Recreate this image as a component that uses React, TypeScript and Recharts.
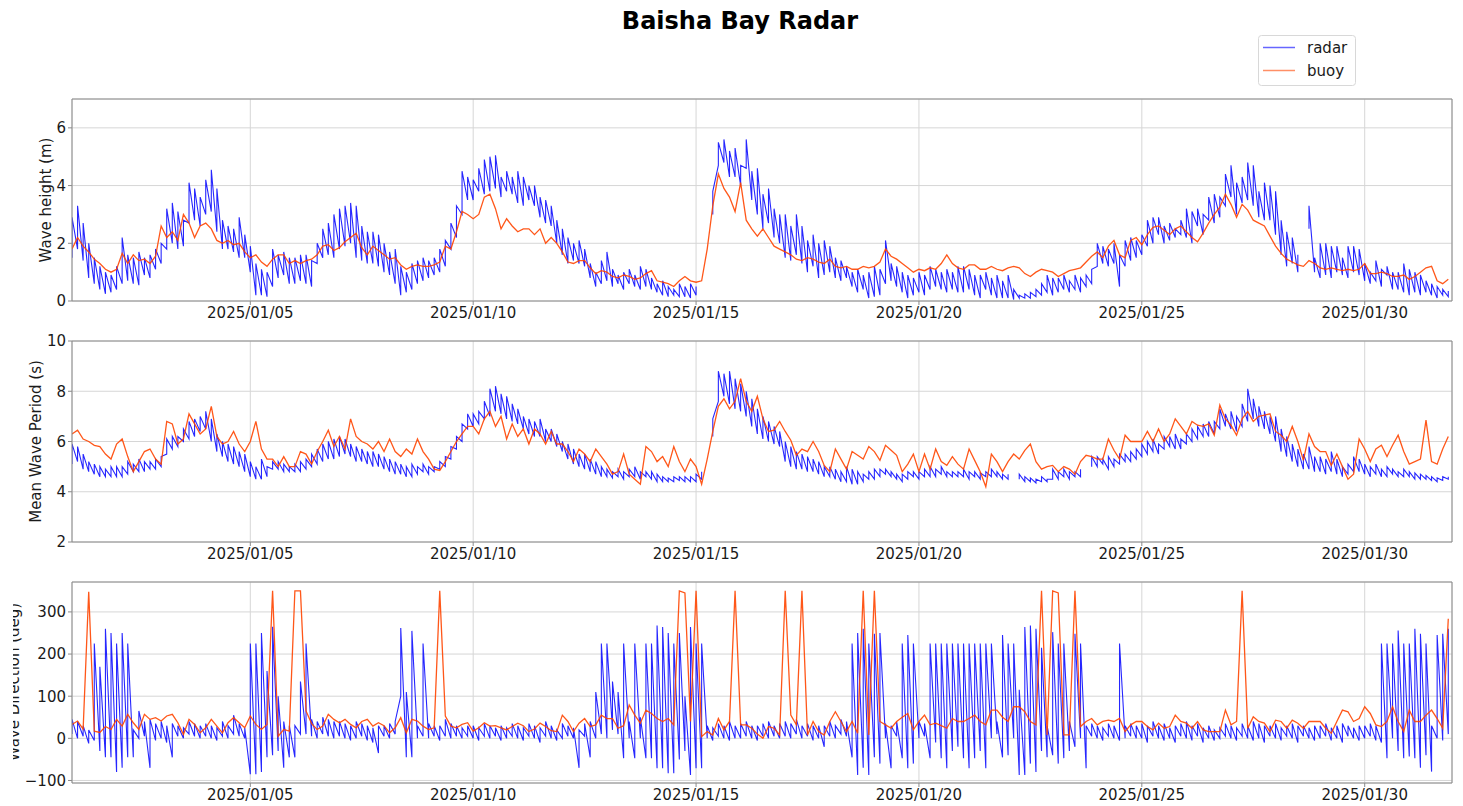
import React from "react";
import { LineChart, Line, XAxis, YAxis, CartesianGrid, ReferenceLine } from "recharts";

const FONT = "DejaVu Sans, Verdana, sans-serif";
const STEP = 3; // hours between samples, counted from 2025/01/01 00:00
const X_END = 743;
const tickHours = [96, 216, 336, 456, 576, 696];
const tickLabels = ["2025/01/05", "2025/01/10", "2025/01/15", "2025/01/20", "2025/01/25", "2025/01/30"];

type Pair = [number, number] | null;

// ---------- Wave height (m) ----------
const buoyHs: number[] = [
  1.8, 2.2, 1.9, 1.7, 1.45, 1.3, 1.1, 1.0,
  1.1, 1.65, 1.3, 1.6, 1.4, 1.45, 1.3, 1.55,
  2.6, 2.2, 2.4, 2.1, 3.0, 2.7, 2.2, 2.6,
  2.7, 2.5, 2.1, 2.0, 2.1, 1.95, 2.0, 1.7,
  1.5, 1.6, 1.35, 1.2, 1.45, 1.6, 1.6, 1.3,
  1.4, 1.3, 1.4, 1.45, 1.6, 1.9, 1.95, 1.75,
  1.85, 2.05, 2.2, 2.35, 1.85, 1.6, 1.9, 1.75,
  1.6, 1.45, 1.5, 1.25, 1.1, 1.2, 1.25, 1.2,
  1.2, 1.25, 1.35, 1.9, 1.8, 2.4, 3.1, 3.0,
  2.85, 3.0, 3.6, 3.7, 3.2, 2.5, 2.85, 2.6,
  2.4, 2.5, 2.5, 2.3, 2.5, 2.0, 2.2, 2.0,
  1.7, 1.35, 1.3, 1.4, 1.4, 1.15, 0.95, 1.05,
  1.0, 0.85, 0.8, 0.9, 0.85, 0.75, 0.8, 0.95,
  1.05, 0.7, 0.65, 0.6, 0.5, 0.7, 0.85, 0.7,
  0.65, 0.7, 1.8, 3.3, 4.4, 3.9, 3.6, 3.1,
  4.1, 2.8, 2.5, 2.25, 2.5, 2.2, 1.9, 1.8,
  1.7, 1.6, 1.45, 1.4, 1.5, 1.45, 1.35, 1.3,
  1.45, 1.2, 1.15, 1.2, 1.1, 1.1, 1.2, 1.15,
  1.2, 1.35, 1.8, 1.55, 1.45, 1.3, 1.15, 1.0,
  1.1, 1.05, 1.15, 1.1, 1.3, 1.6, 1.3, 1.15,
  1.1, 1.25, 1.25, 1.1, 1.1, 1.2, 1.1, 1.05,
  1.15, 1.2, 1.15, 0.95, 0.85, 1.0, 1.1, 1.05,
  1.0, 0.85, 0.95, 1.05, 1.1, 1.15, 1.35, 1.55,
  1.7, 1.5, 1.9, 2.1, 1.6, 1.5, 2.1, 2.2,
  1.95, 2.3, 2.55, 2.6, 2.45, 2.3, 2.5, 2.6,
  2.4, 2.2, 2.05, 2.35, 2.7, 3.0, 3.25, 3.7,
  3.35, 2.9, 3.35, 3.15, 2.8, 2.7, 2.6, 2.25,
  1.9, 1.65, 1.45, 1.35, 1.25, 1.2, 1.4, 1.3,
  1.15, 1.1, 1.15, 1.1, 1.05, 1.1, 1.05, 1.1,
  1.3, 0.95, 0.95, 1.0, 0.95, 0.85, 0.85, 0.9,
  0.75, 0.85, 1.0, 1.15, 1.2, 0.7, 0.6, 0.75,
];

const radarHs: Pair[] = [
  [1.5,2.9],[1.8,3.3],[1.4,2.7],[0.8,2.0],[0.6,1.5],[0.4,1.2],[0.25,1.0],[0.3,0.9],
  [0.4,1.2],[0.6,2.2],[0.7,1.6],[0.6,1.5],[0.55,1.7],[0.9,1.5],[0.8,1.6],[1.1,1.8],
  [1.3,2.0],[1.8,3.2],[2.0,3.4],[1.8,3.1],[1.9,2.8],[2.7,4.1],[2.8,3.9],[2.6,3.6],
  [3.0,4.2],[3.1,4.55],[2.4,3.9],[1.8,2.8],[1.8,2.6],[1.7,2.5],[1.5,2.9],[1.5,2.3],
  [1.0,1.9],[0.2,1.3],[0.2,1.1],[0.15,1.0],[0.5,1.8],[0.8,1.6],[0.9,1.7],[0.6,1.5],
  [0.6,1.5],[0.7,1.6],[0.6,1.6],[0.5,1.4],[1.3,2.0],[1.5,2.5],[1.6,2.7],[1.5,3.0],
  [1.8,3.2],[1.9,3.3],[2.0,3.4],[1.5,3.3],[1.4,2.6],[1.3,2.4],[1.3,2.4],[1.2,2.3],
  [1.0,2.0],[0.9,1.7],[0.6,1.8],[0.2,1.2],[0.3,1.0],[0.4,1.3],[0.6,1.4],[0.7,1.5],
  [0.8,1.4],[0.9,1.5],[1.0,1.8],[1.2,2.1],[1.8,2.7],[2.2,3.3],[3.0,4.5],[3.5,4.3],
  [3.5,4.2],[3.8,4.6],[3.7,4.9],[3.8,5.0],[3.9,5.05],[3.6,4.3],[3.8,4.5],[3.7,4.3],
  [3.4,4.5],[3.3,4.3],[3.5,4.0],[3.3,4.0],[2.9,3.6],[2.7,3.5],[2.6,3.3],[2.0,2.8],
  [1.6,2.5],[1.3,2.2],[1.4,2.0],[1.3,2.1],[1.2,1.8],[0.8,1.3],[0.5,1.0],[0.6,1.4],
  [0.7,1.7],[0.5,1.1],[0.6,0.9],[0.4,1.0],[0.6,1.1],[0.5,0.9],[0.4,1.2],[0.5,1.1],
  [0.4,0.8],[0.3,0.6],[0.2,0.7],[0.15,0.5],[0.2,0.4],[0.15,0.6],[0.15,0.5],[0.1,0.6],
  [0.2,0.5],null,null,[3.0,3.8],[4.7,5.5],[4.8,5.6],[4.3,5.2],[4.3,5.3],
  [4.0,4.7],[4.6,5.6],[3.5,4.5],[3.0,4.6],[2.5,3.7],[2.7,3.9],[2.2,3.2],[2.0,3.0],
  [1.5,3.0],[1.4,2.6],[1.6,3.0],[1.3,2.6],[1.0,2.1],[1.2,2.3],[0.8,2.0],[0.9,2.1],
  [1.0,1.9],[0.8,1.5],[0.7,1.4],[0.8,1.2],[0.5,1.0],[0.3,1.1],[0.4,0.9],[0.1,1.0],
  [0.15,1.2],[0.2,1.1],[0.6,2.1],[0.7,1.3],[0.5,1.2],[0.3,1.0],[0.1,0.9],[0.2,0.8],
  [0.3,1.0],[0.2,0.9],[0.4,1.2],[0.5,1.1],[0.4,1.0],[0.3,1.1],[0.4,1.0],[0.3,1.2],
  [0.3,1.2],[0.4,1.1],[0.2,0.9],[0.1,0.9],[0.4,1.0],[0.2,0.8],[0.1,0.9],[0.1,0.7],
  [0.1,0.9],[0.05,0.4],[0.1,0.2],[0.1,0.25],[0.1,0.3],[0.15,0.4],[0.2,0.6],[0.3,0.9],
  [0.2,0.8],[0.3,0.8],[0.4,0.9],[0.3,0.7],[0.4,0.9],[0.3,0.8],[0.5,0.9],[0.6,1.1],
  [1.2,2.0],[1.3,1.9],[1.2,1.8],[1.3,2.0],[0.5,1.6],[1.2,2.1],[1.4,2.2],[1.5,2.1],
  [1.6,2.3],[1.9,2.8],[2.0,2.9],[2.3,2.9],[2.0,2.6],[2.1,2.7],[2.2,2.5],[2.3,2.8],
  [2.2,3.2],[2.0,3.1],[2.6,3.2],[2.3,3.0],[2.8,3.6],[2.7,3.7],[2.9,3.6],[3.3,4.4],
  [3.6,4.7],[3.0,4.1],[3.4,4.3],[3.5,4.8],[3.3,4.7],[2.9,3.8],[2.8,4.1],[2.8,4.0],
  [2.3,3.8],[1.6,2.8],[1.2,2.4],[1.3,2.2],[1.0,1.6],null,[2.5,3.3],[1.0,1.5],
  [0.8,2.0],[0.9,2.0],[0.8,1.9],[1.0,1.9],[0.9,1.5],[0.8,1.9],[1.0,1.9],[0.9,1.8],
  [0.7,1.3],[0.6,1.0],[0.7,1.4],[0.5,1.1],[0.9,1.2],[0.4,1.0],[0.4,1.0],[0.3,1.3],
  [0.2,1.1],[0.3,1.0],[0.2,0.9],[0.3,0.7],[0.2,0.6],[0.1,0.5],[0.2,0.4],[0.15,0.35],
];

// ---------- Mean wave period (s) ----------
const buoyTp: number[] = [
  6.3, 6.45, 6.1, 6.0, 5.85, 5.8, 5.5, 5.3,
  5.9, 6.1, 5.4, 4.8, 5.2, 5.6, 5.7, 5.3,
  5.1, 6.8, 6.7, 5.9, 6.1, 7.1, 6.7, 6.3,
  6.5, 7.4, 6.2, 5.9, 6.0, 6.4, 5.9, 5.6,
  6.0, 6.8, 5.7, 5.3, 5.3, 5.0, 5.4, 5.0,
  5.0, 5.6, 5.5, 5.1, 5.6, 6.0, 6.45, 5.8,
  6.2, 5.7, 6.9, 6.2, 6.0, 5.9, 5.7, 6.0,
  5.6, 6.1, 5.6, 5.4, 5.7, 5.5, 6.1, 5.6,
  5.3, 4.9, 4.85, 5.2, 5.6, 6.0, 6.3, 6.6,
  6.6, 6.3, 6.9, 7.2, 6.6, 7.0, 6.1, 6.7,
  6.2, 6.5, 5.9, 6.5, 6.3, 5.9, 6.4, 5.9,
  5.9, 5.6, 5.2, 5.7, 5.5, 5.2, 5.7, 5.4,
  5.1, 4.7, 4.8, 5.5, 4.7, 4.5, 4.3, 5.8,
  5.6, 5.2, 5.4, 5.0, 5.8, 5.2, 4.8, 5.3,
  5.0, 4.3, 5.3, 6.4, 7.4, 7.7, 7.3, 7.6,
  8.5, 7.6, 7.2, 7.8, 6.9, 6.4, 6.45, 6.8,
  6.4, 6.05, 5.45, 5.7, 5.6, 6.0, 5.6, 5.05,
  4.8, 5.7, 5.3, 4.9, 5.6, 5.45, 5.3, 5.8,
  5.6, 5.25, 5.85, 5.65, 5.45, 4.8, 5.1, 5.5,
  4.8, 5.5, 4.9, 5.7, 5.2, 5.05, 5.4, 5.1,
  4.9, 5.7, 5.25, 4.8, 4.2, 5.5, 5.2, 4.8,
  5.2, 5.5, 5.3, 5.65, 5.9, 5.2, 4.9, 5.0,
  5.05, 4.8, 5.0, 4.9, 4.7, 5.2, 5.45, 5.4,
  5.3, 5.3, 6.1, 5.65, 5.3, 6.25, 6.0, 6.0,
  6.0, 6.4, 6.0, 6.5, 6.0, 6.3, 6.9, 6.6,
  6.3, 6.8, 6.65, 6.6, 6.7, 6.25, 7.45, 6.9,
  6.65, 6.25, 6.9, 7.2, 6.8, 7.0, 7.05, 7.1,
  6.4, 6.25, 6.0, 6.6, 6.0, 5.25, 6.3, 5.8,
  5.6, 5.6, 5.05, 5.5, 5.0, 4.5, 4.7, 6.1,
  5.7, 5.2, 5.7, 5.85, 5.4, 5.85, 6.25, 5.6,
  5.1, 5.2, 5.3, 6.85, 5.2, 5.1, 5.7, 6.2,
];

const radarTp: Pair[] = [
  [5.1,5.9],[5.2,5.8],[4.9,5.5],[4.8,5.2],[4.7,5.1],[4.6,5.0],[4.6,4.9],[4.6,5.0],
  [4.6,5.0],[4.6,5.0],[4.7,5.2],[4.8,5.1],[4.8,5.3],[4.8,5.2],[4.9,5.2],[4.9,5.3],
  [5.0,5.4],[5.5,6.1],[5.7,6.2],[5.8,6.2],[6.0,6.5],[6.1,6.8],[6.2,6.9],[6.4,7.0],
  [6.5,7.2],[6.0,6.9],[5.6,6.3],[5.4,6.0],[5.2,5.9],[5.1,5.8],[5.0,5.6],[4.8,5.5],
  [4.6,5.2],[4.5,5.0],[4.5,5.3],[4.6,5.0],[4.9,5.2],[4.9,5.2],[4.8,5.1],[4.8,5.0],
  [4.8,5.1],[4.8,5.2],[4.9,5.3],[5.0,5.5],[5.1,5.7],[5.2,5.9],[5.3,6.0],[5.3,6.1],
  [5.4,6.2],[5.5,6.1],[5.4,5.9],[5.2,5.8],[5.2,5.7],[5.1,5.6],[5.0,5.6],[5.0,5.5],
  [4.9,5.4],[4.8,5.3],[4.7,5.2],[4.7,5.1],[4.6,5.0],[4.6,5.1],[4.7,5.0],[4.8,5.1],
  [4.7,5.0],[4.8,5.0],[4.9,5.2],[5.0,5.4],[5.3,5.8],[5.7,6.2],[6.0,6.7],[6.5,7.1],
  [6.6,7.1],[6.7,7.2],[6.9,7.6],[7.0,8.1],[7.2,8.2],[7.1,7.9],[6.9,7.8],[6.8,7.5],
  [6.7,7.3],[6.5,7.0],[6.3,6.9],[6.2,6.8],[6.2,6.9],[6.0,6.5],[6.0,6.5],[5.8,6.3],
  [5.6,6.0],[5.3,5.9],[5.1,5.7],[5.0,5.5],[4.9,5.5],[4.8,5.3],[4.7,5.2],[4.6,5.0],
  [4.6,4.9],[4.55,4.8],[4.6,4.9],[4.5,4.8],[4.6,4.9],[4.6,5.0],[4.5,4.8],[4.6,4.8],
  [4.5,4.8],[4.4,4.7],[4.4,4.6],[4.4,4.55],[4.4,4.6],[4.45,4.6],[4.4,4.6],[4.4,4.6],
  [4.4,4.7],[4.5,4.8],null,[6.2,6.9],[7.6,8.8],[7.8,8.7],[7.5,8.8],[7.3,8.5],
  [7.2,8.3],[7.0,8.0],[6.6,7.7],[6.3,7.3],[6.1,7.0],[6.0,6.8],[5.9,6.6],[5.8,6.4],
  [5.2,6.0],[5.0,5.8],[4.9,5.6],[4.9,5.5],[4.8,5.4],[4.8,5.3],[4.7,5.2],[4.6,5.0],
  [4.6,5.0],[4.5,4.9],[4.4,4.8],[4.4,5.0],[4.3,4.9],[4.3,4.8],[4.4,4.7],[4.5,4.8],
  [4.5,4.9],[4.6,4.9],[4.7,4.9],[4.6,4.8],[4.5,4.7],[4.4,4.7],[4.5,4.8],[4.6,4.8],
  [4.5,4.8],[4.6,4.9],[4.6,5.0],[4.6,4.9],[4.7,5.0],[4.6,4.8],[4.6,4.8],[4.6,4.8],
  [4.6,4.9],[4.5,4.8],[4.6,4.8],[4.5,4.75],[4.6,4.8],[4.6,4.9],[4.6,4.8],[4.5,4.7],
  [4.5,4.7],null,[4.5,4.7],[4.4,4.6],[4.4,4.55],[4.35,4.5],[4.4,4.6],[4.4,4.5],
  [4.5,4.9],[4.5,4.8],[4.6,4.9],[4.5,4.8],[4.6,4.8],[4.6,4.9],null,[5.0,5.4],
  [5.0,5.4],[5.1,5.3],[4.9,5.4],[5.0,5.3],[5.1,5.5],[5.2,5.5],[5.2,5.6],[5.3,5.7],
  [5.4,5.9],[5.5,6.0],[5.6,6.1],[5.5,5.9],[5.7,6.2],[5.8,6.2],[5.7,6.3],[5.7,6.1],
  [5.9,6.3],[6.0,6.5],[6.1,6.6],[6.2,6.7],[6.2,6.8],[6.3,6.8],[6.5,7.3],[6.6,7.1],
  [6.5,7.2],[6.4,7.0],[6.6,7.5],[6.8,8.1],[6.9,7.7],[6.6,7.4],[6.5,7.2],[6.3,7.0],
  [6.0,7.0],[5.6,6.5],[5.4,6.2],[5.2,5.9],[5.0,5.7],[4.9,5.5],[4.9,5.8],[4.8,5.4],
  [4.8,5.4],[4.7,5.3],[4.8,5.6],[4.7,5.3],[4.6,5.0],[4.7,5.1],[4.8,5.4],[4.8,5.3],
  [4.7,5.1],[4.6,5.0],[4.7,5.1],[4.6,4.9],[4.6,5.0],[4.7,4.9],[4.6,4.8],[4.6,4.9],
  [4.6,4.8],[4.5,4.75],[4.5,4.7],[4.5,4.65],[4.45,4.6],[4.4,4.55],[4.45,4.6],[4.5,4.6],
];

// ---------- Wave direction (deg) ----------
const buoyDir: number[] = [
  33, 41, 22, 348, 17, 14, 28, 21,
  45, 29, 57, 37, 21, 57, 45, 49,
  41, 53, 57, 37, 9, 45, 33, 13,
  25, 45, 29, 13, 37, 49, 37, 25,
  53, 33, 21, 33, 350, 5, 21, 17,
  350, 350, 65, 35, 21, 29, 57, 45,
  37, 45, 33, 25, 40, 45, 29, 37,
  30, 13, 25, 49, 13, 45, 41, 29,
  21, 25, 350, 53, 29, 25, 33, 37,
  17, 25, 37, 29, 30, 25, 20, 28,
  36, 30, 16, 22, 36, 28, 18, 16,
  55, 40, 16, 36, 47, 28, 32, 55,
  47, 47, 24, 30, 79, 55, 36, 67,
  59, 47, 40, 47, 32, 350, 345, 40,
  350, 4, 16, 8, 47, 20, 40, 350,
  32, 32, 24, 10, 0, 28, 24, 8,
  350, 55, 32, 350, 8, 40, 16, 8,
  40, 63, 40, 16, 40, 12, 350, 8,
  350, 40, 32, 24, 40, 50, 59, 20,
  40, 55, 32, 36, 30, 24, 47, 40,
  40, 47, 55, 40, 32, 67, 67, 50,
  40, 75, 75, 63, 40, 32, 350, 8,
  350, 345, 8, 8, 350, 28, 40, 47,
  32, 40, 43, 40, 47, 16, 32, 40,
  40, 28, 20, 36, 24, 28, 55, 40,
  36, 24, 40, 20, 16, 16, 16, 67,
  32, 40, 350, 24, 51, 40, 36, 16,
  43, 40, 24, 43, 36, 24, 40, 40,
  40, 24, 12, 40, 67, 63, 40, 47,
  75, 59, 32, 28, 40, 75, 40, 16,
  67, 40, 40, 55, 67, 47, 24, 284,
];

const radarDir: Pair[] = [
  [10,45],[0,40],[5,30],[-12,20],[-5,225],[-30,170],[-45,260],[-45,250],
  [-80,225],[-70,250],[-45,225],[-45,20],[0,65],[5,40],[-70,45],[-5,35],
  [0,40],[-10,30],[-45,35],[5,30],[0,25],[10,40],[5,35],[0,30],
  [5,35],[0,30],[-5,25],[5,40],[0,30],[10,55],[5,35],[0,25],
  [-85,225],[-85,225],[-80,250],[-45,160],[-40,265],[-30,100],[-70,40],[-45,30],
  [-45,30],[10,135],[10,225],[5,45],[0,40],[10,50],[5,45],[0,40],
  [5,40],[0,35],[-5,30],[0,40],[5,35],[-5,30],[-10,25],[-35,30],
  [5,30],[0,35],[10,40],[100,262],[-45,110],[-45,255],[0,30],[5,225],
  [0,35],[5,30],[-5,30],[5,45],[0,35],[5,30],[0,25],[5,30],
  [0,30],[-5,25],[5,35],[0,30],[5,25],[-5,30],[0,25],[5,35],
  [0,30],[-5,25],[5,35],[0,30],[-10,25],[5,40],[0,30],[-5,20],
  [0,35],[5,30],[0,25],[-70,20],[5,35],[-45,40],[0,110],[10,225],
  [0,225],[20,135],[10,110],[-47,225],[0,40],[-47,225],[0,50],[-47,225],
  [-47,225],[-71,268],[-71,264],[-83,250],[-83,225],[-50,250],[-30,100],[-87,264],
  [-71,225],[-71,225],[0,30],[-5,25],[5,35],[0,30],[-5,40],[0,30],
  [0,35],[5,40],[0,30],[-5,30],[5,35],[0,40],[5,30],[0,35],
  [5,40],[0,35],[10,45],[0,30],[5,35],[-5,30],[0,30],[-20,30],
  [5,40],[0,30],[10,45],[5,40],[-45,225],[-87,250],[-70,260],[-87,225],
  [-45,248],[-60,250],[0,35],[-71,30],[5,40],[-47,225],[-71,245],[-60,225],
  [0,40],[5,35],[-47,225],[-10,225],[-47,225],[-71,225],[-30,225],[-20,225],
  [-47,225],[-71,225],[-47,225],[-30,225],[-71,225],[0,225],[10,40],[-45,245],
  [-40,225],[0,225],[-87,115],[-87,264],[-60,268],[-80,260],[-30,215],[-45,30],
  [-40,252],[-60,225],[-47,225],[-30,40],[-20,248],[0,225],[-71,30],[5,35],
  [0,30],[-5,25],[5,35],[0,30],[-5,225],[0,30],[5,35],[0,30],
  [0,35],[-10,30],[5,40],[0,30],[-5,35],[0,25],[-10,30],[5,35],
  [0,40],[-5,30],[5,35],[-10,25],[0,30],[-5,20],[0,25],[5,35],
  [0,30],[-5,25],[5,35],[0,30],[-5,40],[0,35],[-10,30],[5,30],
  [0,35],[-5,25],[5,30],[0,35],[-10,30],[5,30],[0,25],[-5,30],
  [0,30],[5,35],[-5,25],[0,30],[-10,35],[5,30],[0,25],[-5,30],
  [0,30],[5,35],[-5,30],[-10,225],[-47,225],[0,225],[-30,256],[-47,225],
  [-43,225],[-47,260],[-70,248],[-40,225],[-79,30],[0,245],[-5,248],[10,260],
];

// ---------- helpers to build library tables ----------
function buoyRows(values: number[]) {
  return values.map((v, i) => ({ t: i * STEP, v }));
}
// each radar sample range is drawn as a vertical stroke (low -> high at the same time)
function radarRows(pairs: Pair[]) {
  const rows: { t: number; v: number | null }[] = [];
  pairs.forEach((p, i) => {
    if (p === null) {
      rows.push({ t: i * STEP, v: null });
    } else {
      rows.push({ t: i * STEP, v: p[0] });
      rows.push({ t: i * STEP, v: p[1] });
    }
  });
  return rows;
}

const AXIS = "#8a8a8a";
const GRID = "#d6d6d6";
const TXT = "#1a1a1a";
const RADAR = "#0000ff";
const BUOY = "#ff4500";

const fmtY = (v: number) => String(v).replace("-", "\u2212");

type PanelProps = {
  top: number;
  height: number;
  marginTop: number;
  xAxisHeight: number;
  domain: [number, number];
  ticks: number[];
  radar: Pair[];
  buoy: number[];
};

function Panel({ top, height, marginTop, xAxisHeight, domain, ticks, radar, buoy }: PanelProps) {
  return (
    <div style={{ position: "absolute", left: 0, top }}>
      <LineChart width={1463} height={height} margin={{ top: marginTop, right: 11, bottom: 0, left: 0 }}>
        <CartesianGrid stroke={GRID} strokeWidth={1} />
        <XAxis
          type="number"
          dataKey="t"
          domain={[0, X_END]}
          ticks={tickHours}
          interval={0}
          allowDataOverflow
          tickFormatter={(v: number) => tickLabels[tickHours.indexOf(v)] ?? ""}
          height={xAxisHeight}
          tickSize={4}
          tickMargin={2}
          stroke={AXIS}
          tick={{ fontSize: 15, fill: TXT, fontFamily: FONT }}
        />
        <YAxis
          type="number"
          domain={domain}
          ticks={ticks}
          interval={0}
          allowDataOverflow
          width={72}
          tickSize={4}
          tickMargin={2}
          stroke={AXIS}
          tickFormatter={fmtY}
          tick={{ fontSize: 15, fill: TXT, fontFamily: FONT }}
        />
        <ReferenceLine x={X_END} stroke={AXIS} strokeWidth={1} />
        <ReferenceLine y={domain[1]} stroke={AXIS} strokeWidth={1} />
        <Line
          data={radarRows(radar)}
          dataKey="v"
          type="linear"
          stroke={RADAR}
          strokeOpacity={0.85}
          strokeWidth={1.1}
          dot={false}
          activeDot={false}
          connectNulls={false}
          isAnimationActive={false}
        />
        <Line
          data={buoyRows(buoy)}
          dataKey="v"
          type="linear"
          stroke={BUOY}
          strokeOpacity={0.9}
          strokeWidth={1.3}
          dot={false}
          activeDot={false}
          isAnimationActive={false}
        />
      </LineChart>
    </div>
  );
}

export default function App() {
  return (
    <div
      style={{
        position: "absolute",
        left: 0,
        top: 0,
        width: 1463,
        height: 806,
        background: "#ffffff",
        overflow: "hidden",
        fontFamily: FONT,
      }}
    >
      <Panel top={0} height={330} marginTop={99} xAxisHeight={29} domain={[0, 7]} ticks={[0, 2, 4, 6]} radar={radarHs} buoy={buoyHs} />
      <Panel top={320} height={252} marginTop={21} xAxisHeight={30} domain={[2, 10]} ticks={[2, 4, 6, 8, 10]} radar={radarTp} buoy={buoyTp} />
      <Panel top={560} height={246} marginTop={22} xAxisHeight={23} domain={[-106, 371]} ticks={[-100, 0, 100, 200, 300]} radar={radarDir} buoy={buoyDir} />

      <svg
        width={1463}
        height={806}
        style={{ position: "absolute", left: 0, top: 0, pointerEvents: "none" }}
      >
        <defs>
          <clipPath id="dirLabelClip">
            <rect x={13} y={560} width={60} height={246} />
          </clipPath>
        </defs>
        <text x={740} y={29} textAnchor="middle" fontSize={24} fontWeight="bold" fill="#000" fontFamily={FONT}>
          Baisha Bay Radar
        </text>

        <rect x={1258.5} y={35.5} width={97} height={50} rx={3} fill="#ffffff" fillOpacity={0.8} stroke="#d8d8d8" />
        <line x1={1263} x2={1295} y1={47.5} y2={47.5} stroke={RADAR} strokeOpacity={0.6} strokeWidth={1.5} />
        <text x={1307} y={53} fontSize={15} fill={TXT} fontFamily={FONT}>radar</text>
        <line x1={1263} x2={1295} y1={70.5} y2={70.5} stroke={BUOY} strokeOpacity={0.6} strokeWidth={1.5} />
        <text x={1307} y={76} fontSize={15} fill={TXT} fontFamily={FONT}>buoy</text>

        <text transform="rotate(-90 51 200)" x={51} y={200} textAnchor="middle" fontSize={15} fill={TXT} fontFamily={FONT}>
          Wave height (m)
        </text>
        <text transform="rotate(-90 41 441.5)" x={41} y={441.5} textAnchor="middle" fontSize={15} fill={TXT} fontFamily={FONT}>
          Mean Wave Period (s)
        </text>
        <g clipPath="url(#dirLabelClip)">
          <text transform="rotate(-90 18.5 682)" x={18.5} y={682} textAnchor="middle" fontSize={15} fill={TXT} fontFamily={FONT}>
            Wave Direction (deg)
          </text>
        </g>
      </svg>
    </div>
  );
}
